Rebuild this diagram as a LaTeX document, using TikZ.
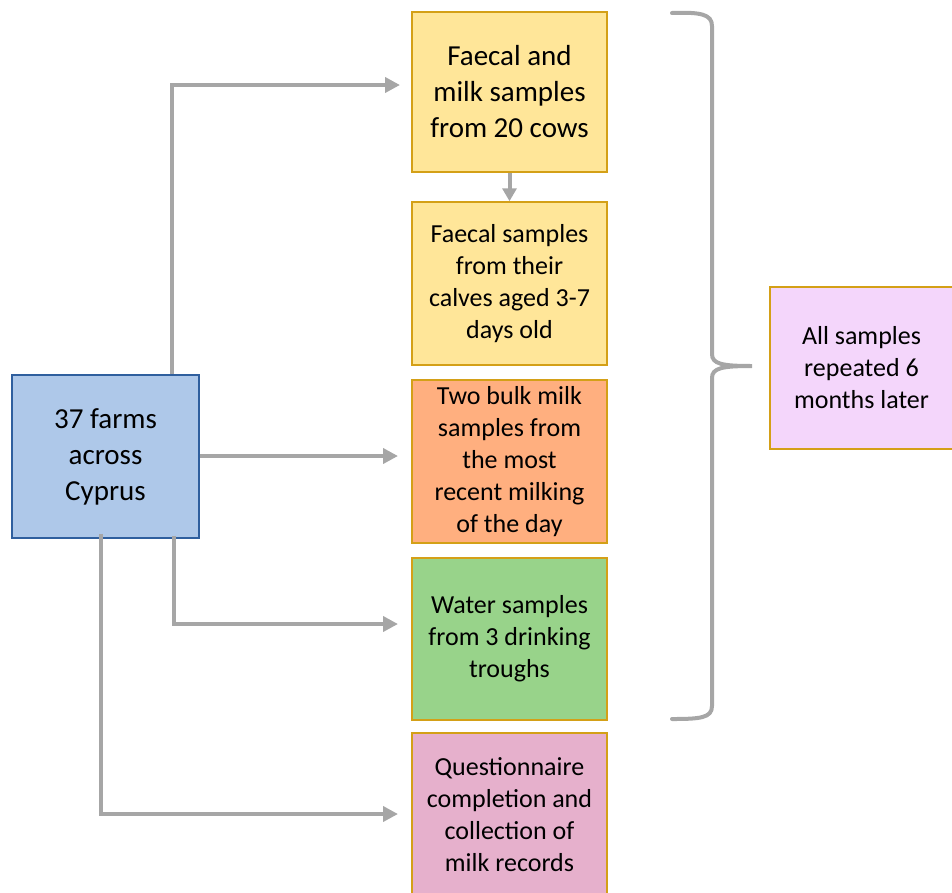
\documentclass[tikz,border=0pt]{standalone}
\usepackage{fontspec}
\setmainfont{Carlito}
\usetikzlibrary{arrows.meta}
\definecolor{arrgray}{HTML}{A6A6A6}
\definecolor{gold}{HTML}{D4A017}
\definecolor{bluefill}{HTML}{AEC8E9}
\definecolor{blueline}{HTML}{2F5F9E}
\definecolor{yellowfill}{HTML}{FFE699}
\definecolor{orangefill}{HTML}{FFAF7F}
\definecolor{greenfill}{HTML}{98D38A}
\definecolor{pinkfill}{HTML}{E6B0CC}
\definecolor{violetfill}{HTML}{F4D6FB}
\tikzset{
  boxbase/.style={draw=gold, line width=1.5pt, align=center, inner sep=0pt, text=black},
  bigtext/.style={font=\fontsize{29}{36}\selectfont},
  smalltext/.style={font=\fontsize{26}{32}\selectfont},
  conn/.style={draw=arrgray, line width=4pt, -{Triangle[length=15pt,width=15pt]}},
  bracepath/.style={draw=arrgray, line width=4pt, line cap=round}
}
\begin{document}
\begin{tikzpicture}[x=1pt,y=-1pt]
\useasboundingbox (0,0) rectangle (952,892);
% boxes
\node[boxbase, draw=blueline, fill=bluefill, minimum width=187pt, minimum height=163pt, bigtext] (farms) at (105.5,456.5) {37 farms\\across\\Cyprus};
\node[boxbase, fill=yellowfill, minimum width=195pt, minimum height=160pt, bigtext] (cows) at (509.5,92) {Faecal and\\milk samples\\from 20 cows};
\node[boxbase, fill=yellowfill, minimum width=195pt, minimum height=163pt, smalltext] (calves) at (509.5,283.5) {Faecal samples\\from their\\calves aged 3-7\\days old};
\node[boxbase, fill=orangefill, minimum width=195pt, minimum height=163pt, smalltext] (bulk) at (509.5,461.5) {Two bulk milk\\samples from\\the most\\recent milking\\of the day};
\node[boxbase, fill=greenfill, minimum width=195pt, minimum height=162pt, smalltext] (water) at (509.5,639) {Water samples\\from 3 drinking\\troughs};
\node[boxbase, fill=pinkfill, minimum width=195pt, minimum height=164pt, smalltext] (quest) at (509.5,815) {Questionnaire\\completion and\\collection of\\milk records};
\node[boxbase, fill=violetfill, minimum width=183pt, minimum height=162pt, smalltext] (repeat) at (861.5,368) {All samples\\repeated 6\\months later};
% connector end points
\coordinate (t1) at (400,85);
\coordinate (t4) at (398,624);
\coordinate (t5) at (398,814);
% connectors
\draw[conn] ([xshift=66.5pt]farms.north) |- (t1);
\draw[conn] (farms.east |- 0,456) -- (398,456);
\draw[conn] ([xshift=68.5pt,yshift=3pt]farms.south) |- (t4);
\draw[conn] ([xshift=-4.5pt,yshift=5pt]farms.south) |- (t5);
\draw[conn, -{Triangle[length=13pt,width=14pt]}] (cows.south) -- (calves.north);
% brace
\coordinate (btop) at (672,13);
\coordinate (btip) at (752,366);
\coordinate (bbot) at (672,719);
\draw[bracepath] (btop) .. controls (700,12) and (712,14) .. (712,26) -- (712,354)
  .. controls (712,364) and (722,366) .. (btip)
  .. controls (722,366) and (712,368) .. (712,378) -- (712,706)
  .. controls (712,718) and (700,719) .. (bbot);
\end{tikzpicture}
\end{document}
